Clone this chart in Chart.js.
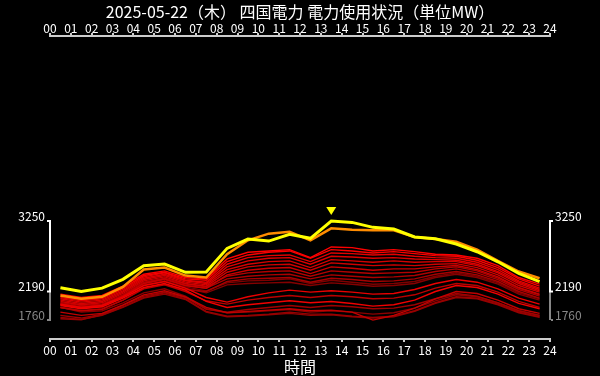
<!DOCTYPE html>
<html>
<head>
<meta charset="utf-8">
<script src="https://cdn.jsdelivr.net/npm/chart.js@4.4.1/dist/chart.umd.min.js"></script>
<style>
  html, body { margin: 0; padding: 0; background: #000; }
  canvas { display: block; }
</style>
</head>
<body>
<canvas id="chart" width="600" height="376"></canvas>
<script>
// 時刻 (各時間帯の中央に置く)
const hours = [0.5, 1.5, 2.5, 3.5, 4.5, 5.5, 6.5, 7.5, 8.5, 9.5, 10.5, 11.5,
  12.5, 13.5, 14.5, 15.5, 16.5, 17.5, 18.5, 19.5, 20.5, 21.5, 22.5, 23.5];
const hourLabels = ["00","01","02","03","04","05","06","07","08","09","10","11","12",
  "13","14","15","16","17","18","19","20","21","22","23","24"];
const yTickValues = [1760, 2190, 3250];

// 当日 (5/22) と前日 (5/21)
const today = [2246, 2190, 2240, 2373, 2577, 2603, 2478, 2483, 2839, 2979, 2949, 3050,
  2990, 3250, 3230, 3155, 3130, 3010, 2984, 2904, 2788, 2637, 2463, 2337];
const yesterday = [2130, 2080, 2110, 2260, 2520, 2550, 2430, 2400, 2750, 2960, 3060, 3090,
  2960, 3140, 3120, 3110, 3110, 3010, 2980, 2940, 2820, 2650, 2490, 2390];

// 過去日 5/1〜5/20
const d0501 = [2000, 1950, 1980, 2110, 2290, 2350, 2260, 2200, 2320, 2350, 2360, 2380, 2310, 2360, 2330, 2300, 2310, 2340, 2420, 2470, 2420, 2320, 2170, 2080];
const d0502 = [1990, 1940, 1960, 2100, 2280, 2340, 2240, 2170, 2290, 2310, 2320, 2330, 2280, 2320, 2300, 2270, 2280, 2310, 2400, 2450, 2400, 2300, 2150, 2060];
const d0503 = [1950, 1880, 1900, 2020, 2170, 2230, 2120, 1930, 1870, 1880, 1900, 1920, 1880, 1900, 1880, 1850, 1870, 1940, 2050, 2140, 2110, 2020, 1900, 1830];
const d0504 = [1800, 1770, 1830, 1950, 2090, 2150, 2070, 1880, 1810, 1820, 1840, 1860, 1830, 1840, 1810, 1790, 1810, 1890, 2010, 2100, 2080, 1990, 1870, 1800];
const d0505 = [1780, 1765, 1840, 1960, 2100, 2170, 2080, 1890, 1820, 1830, 1850, 1880, 1850, 1850, 1820, 1800, 1820, 1900, 2020, 2110, 2090, 2000, 1880, 1810];
const d0506 = [1830, 1790, 1850, 1980, 2120, 2180, 2100, 1920, 1880, 1920, 1950, 1980, 1950, 1980, 1960, 1930, 1940, 1990, 2080, 2160, 2120, 2020, 1900, 1830];
const d0507 = [1950, 1900, 1930, 2060, 2240, 2300, 2220, 2190, 2340, 2380, 2390, 2400, 2330, 2390, 2370, 2340, 2350, 2380, 2450, 2490, 2440, 2340, 2190, 2090];
const d0508 = [2010, 1960, 1990, 2130, 2310, 2370, 2280, 2240, 2380, 2420, 2440, 2450, 2380, 2440, 2420, 2400, 2410, 2430, 2490, 2530, 2470, 2370, 2220, 2120];
const d0509 = [2020, 1980, 2000, 2140, 2330, 2390, 2300, 2260, 2420, 2470, 2490, 2500, 2420, 2500, 2480, 2460, 2470, 2480, 2530, 2560, 2500, 2390, 2240, 2140];
const d0510 = [1950, 1900, 1920, 2060, 2230, 2290, 2190, 2050, 2000, 2060, 2100, 2130, 2100, 2130, 2110, 2080, 2090, 2140, 2240, 2310, 2280, 2180, 2040, 1950];
const d0511 = [1880, 1830, 1860, 1990, 2140, 2200, 2110, 1950, 1870, 1890, 1910, 1930, 1900, 1910, 1880, 1760, 1830, 1940, 2080, 2190, 2160, 2060, 1930, 1860];
const d0512 = [1990, 1950, 1980, 2120, 2310, 2380, 2280, 2240, 2440, 2510, 2540, 2550, 2460, 2560, 2540, 2510, 2530, 2530, 2560, 2580, 2520, 2410, 2250, 2150];
const d0513 = [2040, 1990, 2020, 2160, 2350, 2410, 2310, 2270, 2480, 2560, 2590, 2600, 2510, 2620, 2600, 2580, 2590, 2580, 2600, 2610, 2550, 2440, 2280, 2180];
const d0514 = [2060, 2010, 2040, 2180, 2370, 2430, 2330, 2290, 2520, 2600, 2640, 2650, 2550, 2670, 2650, 2630, 2650, 2630, 2640, 2640, 2580, 2470, 2310, 2200];
const d0515 = [2080, 2030, 2060, 2200, 2390, 2450, 2350, 2310, 2560, 2650, 2690, 2700, 2600, 2720, 2710, 2690, 2700, 2680, 2670, 2660, 2600, 2490, 2330, 2220];
const d0516 = [2100, 2050, 2080, 2220, 2410, 2470, 2360, 2330, 2600, 2700, 2730, 2740, 2640, 2770, 2760, 2740, 2750, 2720, 2700, 2690, 2630, 2520, 2350, 2240];
const d0517 = [2000, 1950, 1980, 2110, 2280, 2340, 2240, 2100, 2030, 2110, 2170, 2210, 2180, 2200, 2180, 2150, 2160, 2220, 2310, 2370, 2330, 2230, 2090, 2000];
const d0518 = [1980, 1930, 1960, 2090, 2250, 2310, 2210, 2040, 1950, 1990, 2020, 2050, 2020, 2040, 2010, 1970, 1990, 2060, 2190, 2280, 2250, 2150, 2010, 1930];
const d0519 = [2120, 2070, 2100, 2240, 2430, 2480, 2380, 2360, 2640, 2740, 2780, 2800, 2690, 2820, 2800, 2770, 2790, 2760, 2730, 2720, 2660, 2550, 2380, 2270];
const d0520 = [2150, 2100, 2130, 2270, 2450, 2500, 2400, 2380, 2680, 2780, 2800, 2820, 2700, 2860, 2850, 2800, 2820, 2790, 2750, 2740, 2690, 2580, 2400, 2300];

const pastDays = [d0501, d0502, d0503, d0504, d0505, d0506, d0507, d0508, d0509, d0510,
  d0511, d0512, d0513, d0514, d0515, d0516, d0517, d0518, d0519, d0520];

const FONT = '"Noto Sans CJK JP", "Noto Sans", sans-serif';
Chart.defaults.font.family = FONT;
Chart.defaults.color = "#fff";

function toPoints(values) {
  return values.map((v, i) => ({ x: hours[i], y: v }));
}

// 古い日ほど暗い赤
const datasets = pastDays.map((values, i) => {
  const r = Math.round(125 + (130 * i) / (pastDays.length - 1));
  return {
    data: toPoints(values),
    borderColor: `rgb(${r},0,0)`,
    borderWidth: 1.4,
    pointRadius: 0,
    order: 10 + pastDays.length - i
  };
});
datasets.push({
  data: toPoints(yesterday),
  borderColor: "#ff8c00",
  borderWidth: 2.5,
  pointRadius: 0,
  order: 1
});
datasets.push({
  data: toPoints(today),
  borderColor: "#ffff00",
  borderWidth: 3,
  pointRadius: 0,
  order: 0
});

// 目盛り範囲の括弧、最大値マーカー、タイトル
const decorations = {
  id: "decorations",
  afterDraw(chart) {
    const { ctx, chartArea, scales } = chart;
    const y = scales.y;
    const yTop = y.getPixelForValue(yTickValues[2]);
    const yMid = y.getPixelForValue(yTickValues[1]);
    const yLow = y.getPixelForValue(yTickValues[0]);

    const bracket = (x, dir) => {
      ctx.save();
      ctx.lineWidth = 2;
      ctx.strokeStyle = "#888";
      ctx.beginPath();
      ctx.moveTo(x, yMid);
      ctx.lineTo(x, yLow);
      ctx.moveTo(x + 1, yLow);
      ctx.lineTo(x + dir * 3, yLow);
      ctx.stroke();
      ctx.strokeStyle = "#fff";
      ctx.beginPath();
      ctx.moveTo(x + dir * 3, yTop);
      ctx.lineTo(x, yTop);
      ctx.lineTo(x, yMid);
      ctx.lineTo(x + dir * 3, yMid);
      ctx.stroke();
      ctx.restore();
    };
    bracket(chartArea.left, -1);
    bracket(chartArea.right, 1);

    // 当日最大値の▼
    const maxVal = Math.max(...today);
    const idx = today.indexOf(maxVal);
    const px = scales.x.getPixelForValue(hours[idx]);
    const py = y.getPixelForValue(maxVal) - 6;
    ctx.save();
    ctx.fillStyle = "#ffff00";
    ctx.beginPath();
    ctx.moveTo(px, py);
    ctx.lineTo(px - 5, py - 8);
    ctx.lineTo(px + 5, py - 8);
    ctx.closePath();
    ctx.fill();

    ctx.fillStyle = "#fff";
    ctx.textAlign = "center";
    ctx.textBaseline = "middle";
    ctx.font = `16px ${FONT}`;
    ctx.fillText("2025-05-22（木） 四国電力 電力使用状況（単位MW）", 300, 12);
    ctx.fillText("時間", 300, 367);
    ctx.restore();
  }
};

const xAxis = (position, height, pad) => ({
  type: "linear",
  position: position,
  min: 0,
  max: 24,
  border: { display: true, color: "#ccc", width: 2 },
  grid: { display: true, drawOnChartArea: false, drawTicks: true, tickLength: 3, color: "#ccc", lineWidth: 2 },
  ticks: {
    stepSize: 1,
    autoSkip: false,
    maxRotation: 0,
    padding: pad,
    color: "#fff",
    font: { size: 12 },
    callback: (v) => hourLabels[v]
  },
  afterFit: (scale) => { scale.height = height; }
});

const yAxis = (position) => ({
  type: "linear",
  position: position,
  min: 1475,
  max: 6035,
  border: { display: false },
  grid: { display: false, drawTicks: false },
  afterBuildTicks: (scale) => { scale.ticks = yTickValues.map((v) => ({ value: v })); },
  afterFit: (scale) => { scale.width = 50; },
  ticks: {
    padding: 5,
    labelOffset: -5,
    font: { size: 12 },
    color: (c) => (c.tick && c.tick.value === yTickValues[0] ? "#888" : "#fff"),
    callback: (v) => String(v)
  }
});

new Chart(document.getElementById("chart"), {
  type: "line",
  data: { datasets: datasets },
  options: {
    responsive: false,
    animation: false,
    layout: { padding: 0 },
    plugins: {
      legend: { display: false },
      title: { display: false },
      tooltip: { enabled: false }
    },
    scales: {
      x: xAxis("bottom", 37, 1),
      x2: xAxis("top", 36, -3),
      y: yAxis("left"),
      y2: yAxis("right")
    }
  },
  plugins: [
    {
      id: "bg",
      beforeDraw(chart) {
        const c = chart.ctx;
        c.save();
        c.fillStyle = "#000";
        c.fillRect(0, 0, chart.width, chart.height);
        c.restore();
      }
    },
    decorations
  ]
});
</script>
</body>
</html>
